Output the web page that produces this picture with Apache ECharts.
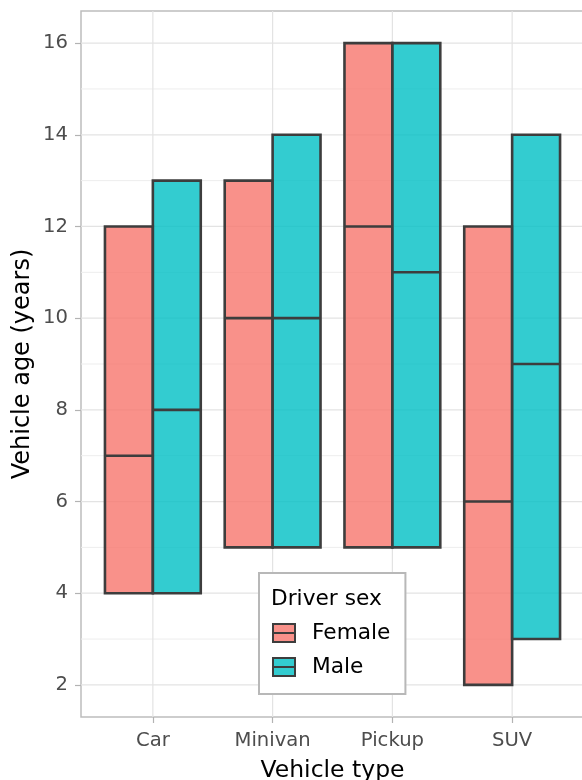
<!DOCTYPE html>
<html>
<head>
<meta charset="utf-8">
<script src="https://cdn.jsdelivr.net/npm/echarts@6/dist/echarts.min.js"></script>
<style>
html,body{margin:0;padding:0;background:#fff;}
#chart{width:582px;height:780px;}
</style>
</head>
<body>
<div id="chart"></div>
<script>
// ---- data ----
const categories = ['Car', 'Minivan', 'Pickup', 'SUV'];
const femaleMin = [4, 5, 5, 2];
const femaleMid = [7, 10, 12, 6];
const femaleMax = [12, 13, 16, 12];
const maleMin = [4, 5, 5, 3];
const maleMid = [8, 10, 11, 9];
const maleMax = [13, 14, 16, 14];
const yMajorTicks = [2, 4, 6, 8, 10, 12, 14, 16];
const yMinorTicks = [3, 5, 7, 9, 11, 13, 15];

// ---- styles ----
const FONT = 'DejaVu Sans';
const femaleFill = 'rgba(248,118,109,0.8)';
const maleFill = 'rgba(0,191,196,0.8)';
const edge = '#3d3d3d';
const xPos = categories.map((c, i) => i + 1);
const xMin = 0.4, xMax = 4.6, yMin = 1.3, yMax = 16.7;

function barSeries(name, fill, mins, mids, maxs, side) {
  return {
    name: name,
    type: 'custom',
    itemStyle: { color: fill },
    encode: { x: 0, y: [1, 2, 3] },
    data: xPos.map((x, i) => [x, mins[i], mids[i], maxs[i]]),
    z: 5,
    renderItem: function (params, api) {
      const x = api.value(0);
      const lo = api.value(1), mid = api.value(2), hi = api.value(3);
      const a = side < 0 ? x - 0.4 : x;
      const b = side < 0 ? x : x + 0.4;
      const p1 = api.coord([a, hi]);
      const p2 = api.coord([b, lo]);
      const m1 = api.coord([a, mid]);
      const m2 = api.coord([b, mid]);
      return {
        type: 'group',
        children: [
          { type: 'rect', shape: { x: p1[0], y: p1[1], width: p2[0] - p1[0], height: p2[1] - p1[1] },
            style: { fill: fill, stroke: edge, lineWidth: 2.6 } },
          { type: 'line', shape: { x1: m1[0], y1: m1[1], x2: m2[0], y2: m2[1] },
            style: { stroke: edge, lineWidth: 2.6 } }
        ]
      };
    }
  };
}

function hGrid(values, color, width) {
  return {
    type: 'custom', silent: true, z: 1,
    encode: { y: 0 },
    data: values.map(v => [v]),
    renderItem: function (params, api) {
      const v = api.value(0);
      const p1 = api.coord([xMin, v]);
      const p2 = api.coord([xMax, v]);
      return { type: 'line', shape: { x1: p1[0], y1: p1[1], x2: p2[0], y2: p2[1] },
               style: { stroke: color, lineWidth: width } };
    }
  };
}

const vGrid = {
  type: 'custom', silent: true, z: 1,
  encode: { x: 0 },
  data: xPos.map(v => [v]),
  renderItem: function (params, api) {
    const v = api.value(0);
    const p1 = api.coord([v, yMin]);
    const p2 = api.coord([v, yMax]);
    return { type: 'line', shape: { x1: p1[0], y1: p1[1], x2: p2[0], y2: p2[1] },
             style: { stroke: '#e3e3e3', lineWidth: 1.2 } };
  }
};

const chart = echarts.init(document.getElementById('chart'), null, { renderer: 'canvas' });
const legendIcon = 'path://M0,0 L22,0 L22,18 L0,18 Z M0,9 L22,9';
chart.setOption({
  backgroundColor: '#ffffff',
  animation: false,
  title: {
    text: 'Driver sex',
    left: 271, top: 588, padding: 0,
    textStyle: { fontFamily: FONT, fontSize: 21.7, fontWeight: 'normal', color: '#000' },
    z: 10
  },
  legend: {
    orient: 'vertical',
    left: 259, top: 573,
    padding: [49, 15, 16, 13],
    backgroundColor: '#ffffff',
    borderColor: '#b8b8b8',
    borderWidth: 2,
    borderRadius: 0,
    itemWidth: 22, itemHeight: 18, itemGap: 12,
    textStyle: { fontFamily: FONT, fontSize: 21.7, color: '#000', padding: [0, 0, 0, 12] },
    data: [
      { name: 'Female', icon: legendIcon, itemStyle: { color: femaleFill, borderColor: edge, borderWidth: 2 } },
      { name: 'Male', icon: legendIcon, itemStyle: { color: maleFill, borderColor: edge, borderWidth: 2 } }
    ],
    selectedMode: false
  },
  grid: {
    left: 81, top: 11, width: 503, height: 706,
    containLabel: false, outerBoundsMode: 'none',
    show: true, borderColor: '#bdbdbd', borderWidth: 1.5, backgroundColor: '#ffffff'
  },
  xAxis: {
    type: 'value', min: xMin, max: xMax,
    name: 'Vehicle type', nameLocation: 'middle', nameGap: 42,
    nameTextStyle: { fontFamily: FONT, fontSize: 23.5, color: '#000' },
    axisLine: { show: false },
    axisTick: { show: true, length: 6, customValues: xPos, lineStyle: { color: '#b3b3b3', width: 1.2 } },
    axisLabel: { customValues: xPos, margin: 14, fontFamily: FONT, fontSize: 19.6, color: '#4d4d4d',
      formatter: function (v) { return categories[Math.round(v) - 1] || ''; } },
    splitLine: { show: false }, minorSplitLine: { show: false }
  },
  yAxis: {
    type: 'value', min: yMin, max: yMax,
    name: 'Vehicle age (years)', nameLocation: 'middle', nameGap: 46, nameMoveOverlap: false,
    nameTextStyle: { fontFamily: FONT, fontSize: 24, color: '#000' },
    axisLine: { show: false },
    axisTick: { show: true, length: 6, customValues: yMajorTicks, lineStyle: { color: '#b3b3b3', width: 1.2 } },
    axisLabel: { customValues: yMajorTicks, margin: 13, fontFamily: FONT, fontSize: 19.6, color: '#4d4d4d' },
    splitLine: { show: false }, minorSplitLine: { show: false }
  },
  series: [
    hGrid(yMinorTicks, '#ededed', 1),
    hGrid(yMajorTicks, '#e3e3e3', 1.2),
    vGrid,
    barSeries('Female', femaleFill, femaleMin, femaleMid, femaleMax, -1),
    barSeries('Male', maleFill, maleMin, maleMid, maleMax, 1)
  ]
});
</script>
</body>
</html>
